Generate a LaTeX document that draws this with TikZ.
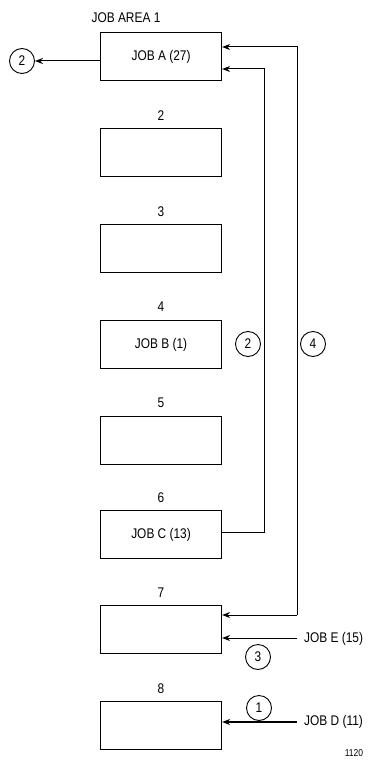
\documentclass[tikz,border=0pt]{standalone}
\usepackage{fontspec}
\setmainfont[FakeStretch=0.85]{Liberation Sans}
\usetikzlibrary{arrows.meta}
\begin{document}
\begin{tikzpicture}[x=1pt,y=-1pt,
  jobbox/.style={draw,line width=1.1pt,minimum width=121pt,minimum height=48pt,inner sep=0pt,anchor=north west,font=\fontsize{14}{16}\selectfont},
  lab/.style={font=\fontsize{14}{16}\selectfont,inner sep=0pt},
  num/.style={draw,circle,minimum size=25pt,inner sep=0pt,line width=0.9pt,font=\fontsize{14}{16}\selectfont},
  conn/.style={line width=1pt},
  arr/.style={-{Stealth[length=8pt,width=6pt]}}]
\useasboundingbox (0,0) rectangle (372,760);
\node[jobbox] (b1) at (100,32) {JOB A (27)};
\node[jobbox] (b2) at (100,128) {};
\node[jobbox] (b3) at (100,224) {};
\node[jobbox] (b4) at (100,320) {JOB B (1)};
\node[jobbox] (b5) at (100,416) {};
\node[jobbox] (b6) at (100,510) {JOB C (13)};
\node[jobbox] (b7) at (100,605) {};
\node[jobbox] (b8) at (100,701) {};
\node[lab] (t1) at (126,18) {JOB AREA 1};
\node[lab] (t2) at (161,116) {2};
\node[lab] (t3) at (161,212) {3};
\node[lab] (t4) at (161,307) {4};
\node[lab] (t5) at (161,403) {5};
\node[lab] (t6) at (161,498) {6};
\node[lab] (t7) at (161,593) {7};
\node[lab] (t8) at (161,689) {8};
\node[num] (cL) at (22,61) {2};
\node[num] (cM2) at (248,344) {2};
\node[num] (cM4) at (313,344) {4};
\node[num] (c3) at (258,657) {3};
\node[num] (c1) at (259,708) {1};
\node[lab,anchor=west] (je) at (304,639) {JOB E (15)};
\node[lab,anchor=west] (jd) at (304,722) {JOB D (11)};
\node[lab,font=\fontsize{10}{12}\selectfont] (fig) at (354,753) {1120};
\coordinate (a2) at (264,69);
\coordinate (c2) at (264,532);
\coordinate (a4) at (297,47);
\coordinate (d4) at (297,615);
\coordinate (eS) at (297,638);
\coordinate (dS) at (297,722);
\draw[conn,arr] (b1.west |- cL) -- (cL.east);
\draw[conn,arr] (b6.east |- c2) -- (c2) -- (a2) -- (b1.east |- a2);
\draw[conn,arr] (d4) -- (a4) -- (b1.east |- a4);
\draw[conn,arr] (d4) -- (b7.east |- d4);
\draw[conn,arr] (eS) -- (b7.east |- eS);
\draw[conn,arr,line width=1.5pt] (dS) -- (b8.east |- dS);
\end{tikzpicture}
\end{document}
